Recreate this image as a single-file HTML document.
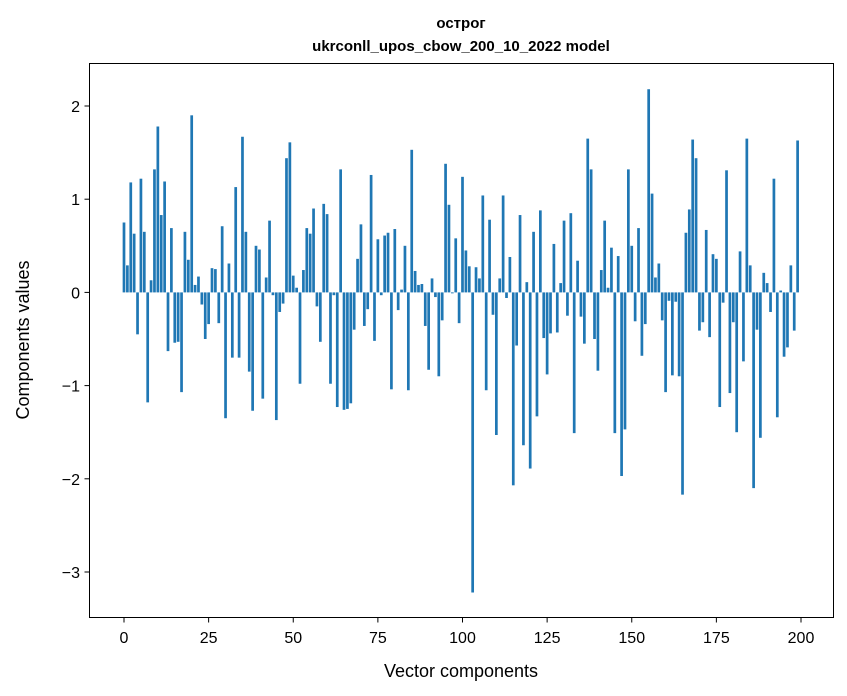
<!DOCTYPE html>
<html><head><meta charset="utf-8"><style>
html,body{margin:0;padding:0;background:#fff;width:847px;height:696px;overflow:hidden}
svg{display:block;font-family:"Liberation Sans","DejaVu Sans",sans-serif}
</style></head><body>
<svg id="s" width="847" height="696" viewBox="0 0 847 696" xmlns="http://www.w3.org/2000/svg">
<rect width="847" height="696" fill="#fff"/>
<g id="bars" fill="#1f77b4"></g>
<rect x="89.5" y="63.5" width="744" height="554" fill="none" stroke="#000" stroke-width="1"/>
<g id="ticks" stroke="#000" stroke-width="1"></g>
<g id="labels" font-size="16" fill="#000"></g>
<text x="461" y="28" text-anchor="middle" font-size="15" font-weight="bold">острог</text>
<text x="461" y="51" text-anchor="middle" font-size="15" font-weight="bold">ukrconll_upos_cbow_200_10_2022 model</text>
<text x="461" y="677" text-anchor="middle" font-size="18">Vector components</text>
<text transform="translate(29,340) rotate(-90)" text-anchor="middle" font-size="18">Components values</text>
</svg>
<script>
var v=[0.75,0.29,1.18,0.63,-0.45,1.22,0.65,-1.18,0.13,1.32,1.78,0.83,1.19,-0.63,0.69,-0.54,-0.53,-1.07,0.65,0.35,
1.9,0.08,0.17,-0.13,-0.5,-0.34,0.26,0.25,-0.33,0.71,-1.35,0.31,-0.7,1.13,-0.7,1.67,0.65,-0.85,-1.27,0.5,
0.46,-1.14,0.16,0.77,-0.03,-1.37,-0.21,-0.12,1.44,1.61,0.18,0.05,-0.98,0.24,0.69,0.63,0.9,-0.15,-0.53,0.95,
0.84,-0.98,-0.03,-1.23,1.32,-1.26,-1.25,-1.19,-0.4,0.36,0.73,-0.36,-0.18,1.26,-0.52,0.57,-0.03,0.61,0.64,-1.04,
0.68,-0.19,0.03,0.5,-1.05,1.53,0.23,0.08,0.09,-0.36,-0.83,0.15,-0.05,-0.9,-0.3,1.38,0.94,-0.01,0.58,-0.33,
1.24,0.45,0.28,-3.22,0.27,0.15,1.04,-1.05,0.78,-0.24,-1.53,0.15,1.04,-0.06,0.38,-2.07,-0.57,0.83,-1.64,0.11,
-1.89,0.65,-1.33,0.88,-0.49,-0.88,-0.44,0.52,-0.43,0.1,0.77,-0.25,0.85,-1.51,0.34,-0.26,-0.55,1.65,1.32,-0.5,
-0.84,0.24,0.77,0.05,0.48,-1.51,0.39,-1.97,-1.47,1.32,0.5,-0.31,0.69,-0.68,-0.34,2.18,1.06,0.16,0.31,-0.3,
-1.07,-0.09,-0.89,-0.1,-0.9,-2.17,0.64,0.89,1.64,1.44,-0.41,-0.32,0.67,-0.48,0.41,0.36,-1.23,-0.11,1.31,-1.08,
-0.32,-1.5,0.44,-0.74,1.65,0.29,-2.1,-0.4,-1.56,0.21,0.1,-0.21,1.22,-1.34,0.02,-0.69,-0.59,0.29,-0.41,1.63];
var NS="http://www.w3.org/2000/svg";
function X(i){return 124+3.385*i}function Y(y){return 292.4-93.2*y}
var b=document.getElementById("bars"),t=document.getElementById("ticks"),l=document.getElementById("labels");
function el(p,n,a,tx){var e=document.createElementNS(NS,n);for(var k in a)e.setAttribute(k,a[k]);if(tx!=null)e.textContent=tx;p.appendChild(e);}
v.forEach(function(y,i){var y0=Y(0),y1=Y(y);el(b,"rect",{x:X(i)-1.354,y:Math.min(y0,y1),width:2.708,height:Math.abs(y1-y0)});});
for(var i=0;i<=200;i+=25){var x=X(i);el(t,"line",{x1:x,x2:x,y1:617.5,y2:622.5});el(l,"text",{x:x,y:643,"text-anchor":"middle"},String(i));}
for(var y=-3;y<=2;y++){var py=Y(y);el(t,"line",{x1:84.5,x2:89.5,y1:py,y2:py});el(l,"text",{x:80,y:py+6,"text-anchor":"end"},y<0?"\u2212"+(-y):String(y));}
</script>
</body></html>
